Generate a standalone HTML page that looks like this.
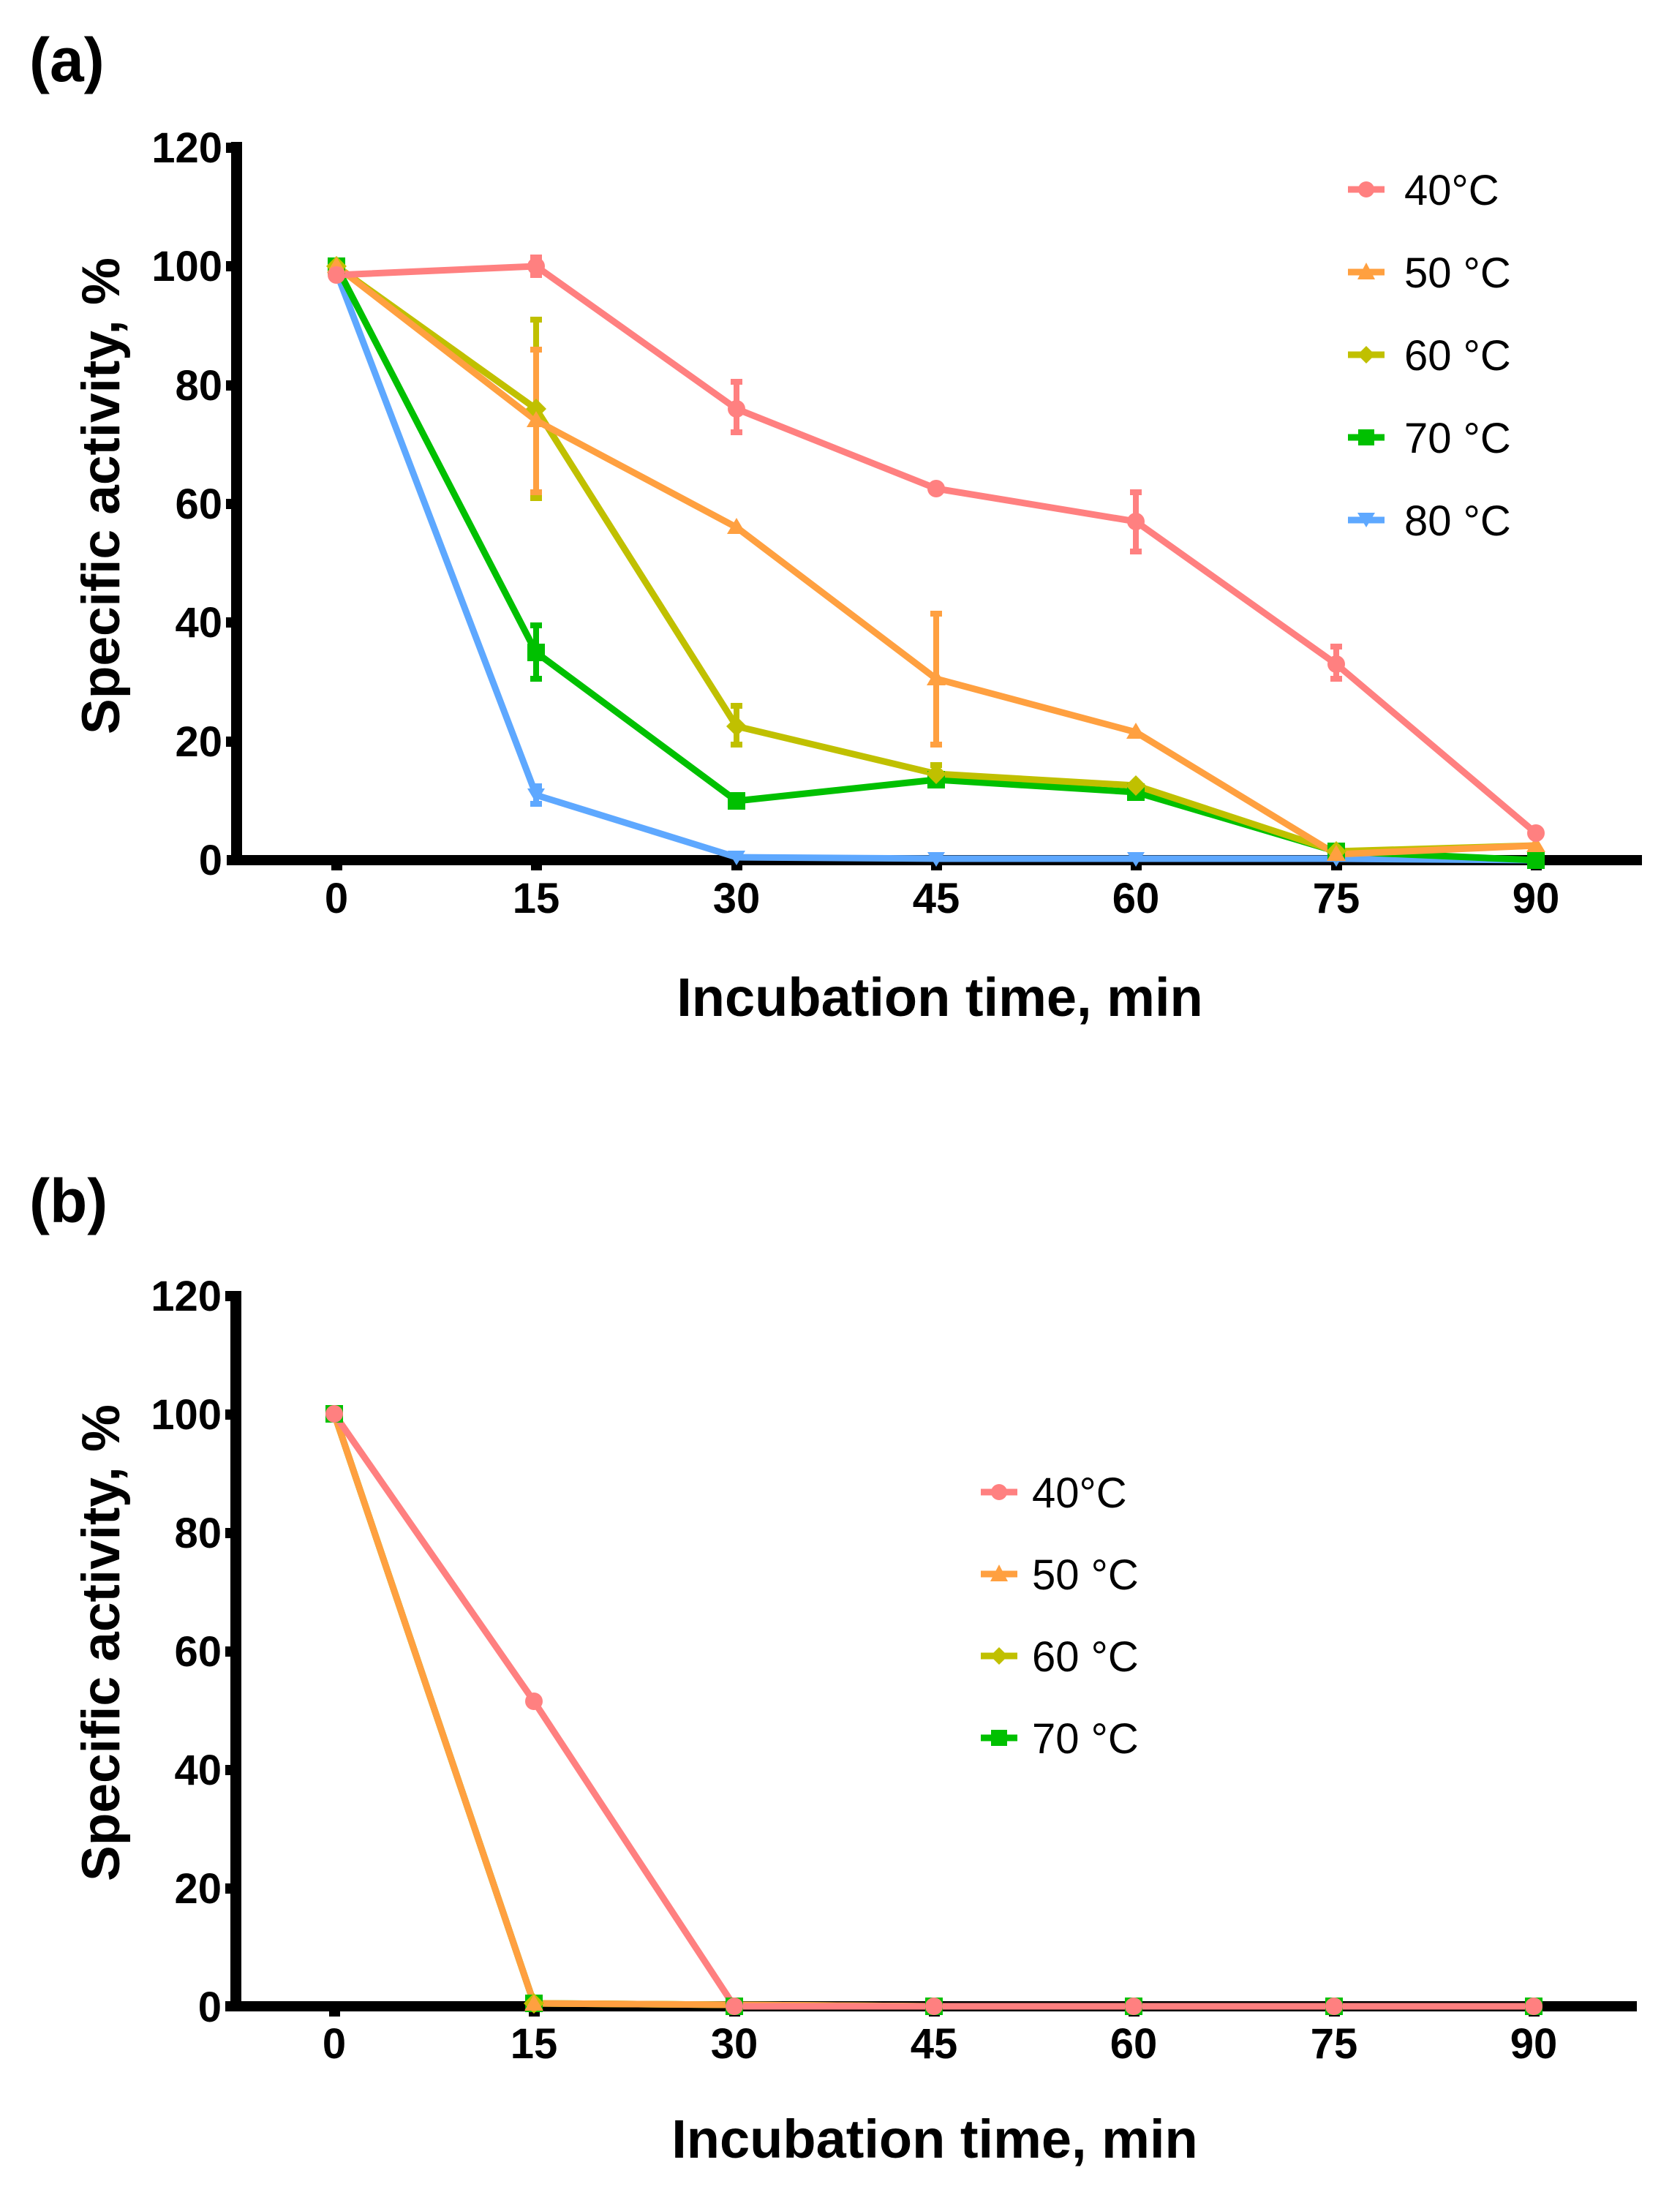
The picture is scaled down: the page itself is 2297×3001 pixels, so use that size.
<!DOCTYPE html>
<html><head><meta charset="utf-8"><style>
html,body{margin:0;padding:0;background:#fff;}
svg{display:block;}
text{font-family:"Liberation Sans",Arial,sans-serif;}
</style></head><body>
<svg width="2297" height="3001" viewBox="0 0 2297 3001" xmlns="http://www.w3.org/2000/svg">
<!-- ============ PANEL A ============ -->
<text x="40" y="111" font-size="84" font-weight="bold">(a)</text>
<g fill="#000">
<rect x="316" y="194" width="15" height="989"/>
<rect x="310" y="1169" width="1935" height="14"/>
<rect x="309" y="195" width="8" height="14"/>
<rect x="309" y="357" width="8" height="14"/>
<rect x="309" y="520" width="8" height="14"/>
<rect x="309" y="682" width="8" height="14"/>
<rect x="309" y="844" width="8" height="14"/>
<rect x="309" y="1007" width="8" height="14"/>
<rect x="453" y="1182" width="15" height="8"/>
<rect x="726" y="1182" width="15" height="8"/>
<rect x="1000" y="1182" width="15" height="8"/>
<rect x="1273" y="1182" width="15" height="8"/>
<rect x="1546" y="1182" width="15" height="8"/>
<rect x="1820" y="1182" width="15" height="8"/>
<rect x="2093" y="1182" width="15" height="8"/>
</g>
<g font-size="58" font-weight="bold" text-anchor="end">
<text x="304" y="222">120</text><text x="304" y="384">100</text><text x="304" y="547">80</text>
<text x="304" y="709">60</text><text x="304" y="871">40</text><text x="304" y="1034">20</text><text x="304" y="1196">0</text>
</g>
<g font-size="58" font-weight="bold" text-anchor="middle">
<text x="460" y="1248">0</text><text x="733" y="1248">15</text><text x="1007" y="1248">30</text>
<text x="1280" y="1248">45</text><text x="1553" y="1248">60</text><text x="1827" y="1248">75</text><text x="2100" y="1248">90</text>
</g>
<text x="1285" y="1389" font-size="74" font-weight="bold" text-anchor="middle">Incubation time, min</text>
<text transform="translate(163,678) rotate(-90)" font-size="73" font-weight="bold" text-anchor="middle">Specific activity, %</text>

<g fill="none" stroke-width="9" stroke-linejoin="round">
<polyline stroke="#5EA8FF" points="460,372 733,1087 1007,1172 1280,1174 1553,1174 1827,1174 2100,1176"/>
<polyline stroke="#00C000" points="460,364 733,892 1007,1095 1280,1066 1553,1083 1827,1164 2100,1176"/>
<polyline stroke="#C0C000" points="460,364 733,559 1007,993 1280,1058 1553,1074 1827,1164 2100,1156"/>
<polyline stroke="#FFA040" points="460,364 733,575 1007,721 1280,928 1553,1001 1827,1168 2100,1156"/>
<polyline stroke="#FF8080" points="460,376 733,364 1007,559 1280,668 1553,713 1827,908 2100,1139"/>
</g>
<g stroke-width="8" fill="none">
<path stroke="#5EA8FF" d="M733,1099V1075M725,1099H741M725,1075H741"/>
<path stroke="#00C000" d="M733,928V855M725,928H741M725,855H741"/>
<path stroke="#C0C000" d="M733,681V437M725,681H741M725,437H741M1007,1018V965M999,1018H1015M999,965H1015M1280,1070V1046M1272,1070H1288M1272,1046H1288"/>
<path stroke="#FFA040" d="M733,673V478M725,673H741M725,478H741M1280,1018V839M1272,1018H1288M1272,839H1288"/>
<path stroke="#FF8080" d="M733,376V352M725,376H741M725,352H741M1007,591V522M999,591H1015M999,522H1015M1553,754V673M1545,754H1561M1545,673H1561M1827,928V884M1819,928H1835M1819,884H1835"/>
</g>
<g fill="#5EA8FF">
<path d="M721,1078h24l-12,20z"/><path d="M995,1163h24l-12,20z"/><path d="M1268,1165h24l-12,20z"/><path d="M1541,1165h24l-12,20z"/><path d="M1815,1165h24l-12,20z"/>
</g>
<g fill="#00C000">
<rect x="448" y="352" width="24" height="24"/><rect x="721" y="880" width="24" height="24"/><rect x="995" y="1083" width="24" height="24"/><rect x="1268" y="1054" width="24" height="24"/><rect x="1541" y="1071" width="24" height="24"/><rect x="1815" y="1152" width="24" height="24"/><rect x="2088" y="1164" width="24" height="24"/>
</g>
<g fill="#C0C000">
<path d="M460,350l14,14-14,14-14-14z"/><path d="M733,545l14,14-14,14-14-14z"/><path d="M1007,979l14,14-14,14-14-14z"/><path d="M1280,1044l14,14-14,14-14-14z"/><path d="M1553,1060l14,14-14,14-14-14z"/><path d="M1827,1150l14,14-14,14-14-14z"/>
</g>
<g fill="#FFA040">
<path d="M460,351l13,22h-26z"/><path d="M733,562l13,22h-26z"/><path d="M1007,708l13,22h-26z"/><path d="M1280,915l13,22h-26z"/><path d="M1553,988l13,22h-26z"/><path d="M1827,1155l13,22h-26z"/><path d="M2100,1143l13,22h-26z"/>
</g>
<g fill="#FF8080">
<circle cx="460" cy="376" r="12"/><circle cx="733" cy="364" r="12"/><circle cx="1007" cy="559" r="12"/><circle cx="1280" cy="668" r="12"/><circle cx="1553" cy="713" r="12"/><circle cx="1827" cy="908" r="12"/><circle cx="2100" cy="1139" r="12"/>
</g>
<g stroke-width="9">
<line x1="1843" y1="259" x2="1893" y2="259" stroke="#FF8080"/>
<line x1="1843" y1="372" x2="1893" y2="372" stroke="#FFA040"/>
<line x1="1843" y1="485" x2="1893" y2="485" stroke="#C0C000"/>
<line x1="1843" y1="598" x2="1893" y2="598" stroke="#00C000"/>
<line x1="1843" y1="711" x2="1893" y2="711" stroke="#5EA8FF"/>
</g>
<circle cx="1868" cy="259" r="11" fill="#FF8080"/>
<path d="M1868,359l12,23h-24z" fill="#FFA040"/>
<path d="M1868,473l12,12-12,12-12-12z" fill="#C0C000"/>
<rect x="1857" y="587" width="22" height="22" fill="#00C000"/>
<path d="M1856,701h24l-12,20z" fill="#5EA8FF"/>
<g font-size="58">
<text x="1920" y="280">40°C</text>
<text x="1920" y="393">50 °C</text>
<text x="1920" y="506">60 °C</text>
<text x="1920" y="619">70 °C</text>
<text x="1920" y="732">80 °C</text>
</g>

<!-- ============ PANEL B ============ -->
<text x="40" y="1671" font-size="84" font-weight="bold">(b)</text>
<g fill="#000">
<rect x="315" y="1765" width="15" height="985"/>
<rect x="308" y="2736" width="1930" height="14"/>
<rect x="308" y="1765" width="8" height="14"/>
<rect x="308" y="1927" width="8" height="14"/>
<rect x="308" y="2089" width="8" height="14"/>
<rect x="308" y="2251" width="8" height="14"/>
<rect x="308" y="2413" width="8" height="14"/>
<rect x="308" y="2575" width="8" height="14"/>
<rect x="450" y="2749" width="15" height="8"/>
<rect x="723" y="2749" width="15" height="8"/>
<rect x="997" y="2749" width="15" height="8"/>
<rect x="1270" y="2749" width="15" height="8"/>
<rect x="1543" y="2749" width="15" height="8"/>
<rect x="1817" y="2749" width="15" height="8"/>
<rect x="2090" y="2749" width="15" height="8"/>
</g>
<g font-size="58" font-weight="bold" text-anchor="end">
<text x="303" y="1792">120</text><text x="303" y="1954">100</text><text x="303" y="2116">80</text>
<text x="303" y="2278">60</text><text x="303" y="2440">40</text><text x="303" y="2602">20</text><text x="303" y="2764">0</text>
</g>
<g font-size="58" font-weight="bold" text-anchor="middle">
<text x="457" y="2814">0</text><text x="730" y="2814">15</text><text x="1004" y="2814">30</text>
<text x="1277" y="2814">45</text><text x="1550" y="2814">60</text><text x="1824" y="2814">75</text><text x="2097" y="2814">90</text>
</g>
<text x="1278" y="2950" font-size="74" font-weight="bold" text-anchor="middle">Incubation time, min</text>
<text transform="translate(163,2246) rotate(-90)" font-size="73" font-weight="bold" text-anchor="middle">Specific activity, %</text>

<g fill="none" stroke-width="9" stroke-linejoin="round">
<polyline stroke="#00C000" points="457,1933 730,2739 1004,2741 1277,2743 1550,2743 1824,2743 2097,2743"/>
<polyline stroke="#C0C000" points="457,1933 730,2739 1004,2741 1277,2743 1550,2743 1824,2743 2097,2743"/>
<polyline stroke="#FFA040" points="457,1933 730,2739 1004,2741 1277,2743 1550,2743 1824,2743 2097,2743"/>
<polyline stroke="#FF8080" points="457,1933 730,2326 1004,2743 1277,2743 1550,2743 1824,2743 2097,2743"/>
</g>
<g fill="#00C000">
<rect x="445" y="1921" width="24" height="24"/><rect x="718" y="2727" width="24" height="24"/><rect x="992" y="2731" width="24" height="24"/><rect x="1265" y="2731" width="24" height="24"/><rect x="1538" y="2731" width="24" height="24"/><rect x="1812" y="2731" width="24" height="24"/><rect x="2085" y="2731" width="24" height="24"/>
</g>
<path d="M730,2725l14,14-14,14-14-14z" fill="#C0C000"/>
<path d="M730,2727l13,22h-26z" fill="#FFA040"/>
<g fill="#FF8080">
<circle cx="457" cy="1933" r="12"/><circle cx="730" cy="2326" r="12"/><circle cx="1004" cy="2743" r="12"/><circle cx="1277" cy="2743" r="12"/><circle cx="1550" cy="2743" r="12"/><circle cx="1824" cy="2743" r="12"/><circle cx="2097" cy="2743" r="12"/>
</g>
<g stroke-width="9">
<line x1="1341" y1="2040" x2="1391" y2="2040" stroke="#FF8080"/>
<line x1="1341" y1="2152" x2="1391" y2="2152" stroke="#FFA040"/>
<line x1="1341" y1="2264" x2="1391" y2="2264" stroke="#C0C000"/>
<line x1="1341" y1="2376" x2="1391" y2="2376" stroke="#00C000"/>
</g>
<circle cx="1366" cy="2040" r="11" fill="#FF8080"/>
<path d="M1366,2139l12,23h-24z" fill="#FFA040"/>
<path d="M1366,2252l12,12-12,12-12-12z" fill="#C0C000"/>
<rect x="1355" y="2365" width="22" height="22" fill="#00C000"/>
<g font-size="58">
<text x="1411" y="2061">40°C</text>
<text x="1411" y="2173">50 °C</text>
<text x="1411" y="2285">60 °C</text>
<text x="1411" y="2397">70 °C</text>
</g>
</svg>
</body></html>
